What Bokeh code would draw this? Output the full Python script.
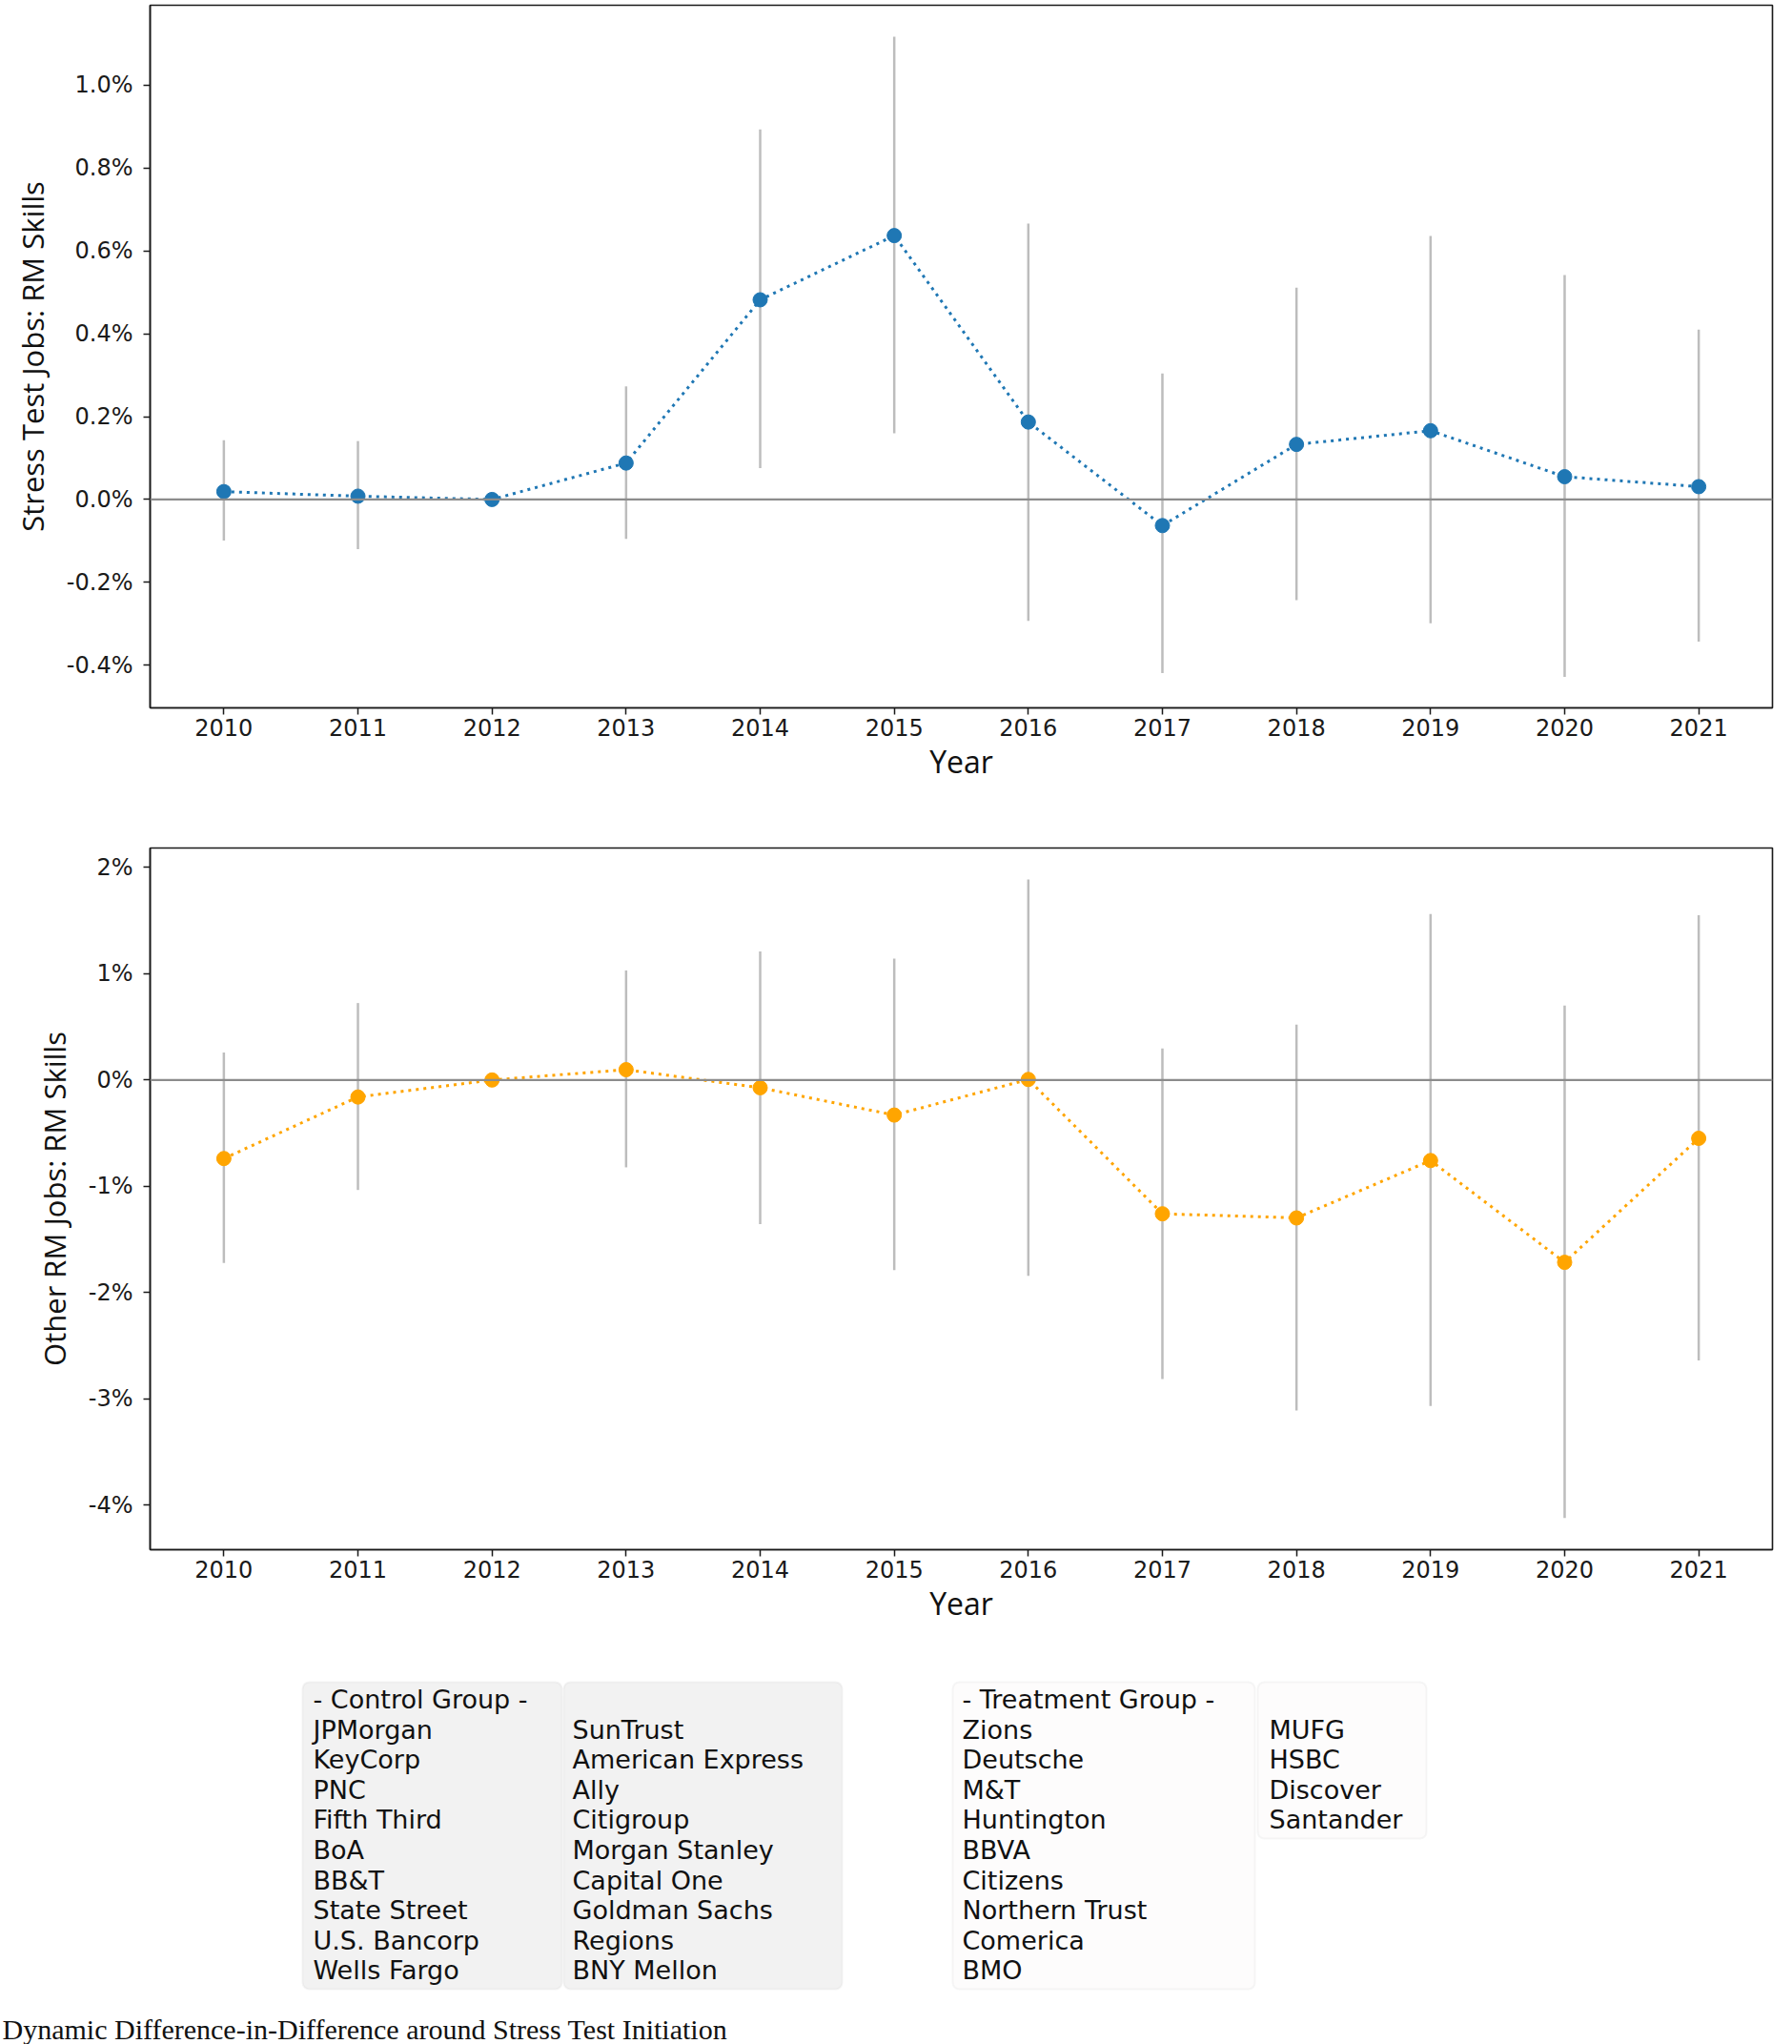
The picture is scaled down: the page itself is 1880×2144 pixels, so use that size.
from bokeh.plotting import figure
from bokeh.layouts import column
from bokeh.models import (Range1d, FixedTicker, PrintfTickFormatter, Span,
                          BoxAnnotation, ColumnDataSource)
from bokeh.embed import file_html
from bokeh.resources import INLINE
from bokeh.core.properties import value

# ---------------- data ----------------
years = [2010, 2011, 2012, 2013, 2014, 2015, 2016, 2017, 2018, 2019, 2020, 2021]

stress_coef = [0.019, 0.008, 0.0, 0.088, 0.482, 0.637, 0.187, -0.063, 0.133, 0.166, 0.055, 0.031]
stress_lo = [-0.099, -0.120, 0.0, -0.095, 0.076, 0.160, -0.293, -0.419, -0.243, -0.299, -0.428, -0.343]
stress_hi = [0.143, 0.141, 0.0, 0.273, 0.893, 1.117, 0.666, 0.304, 0.511, 0.636, 0.542, 0.410]

other_coef = [-0.739, -0.160, 0.0, 0.097, -0.073, -0.330, 0.005, -1.259, -1.298, -0.758, -1.716, -0.549]
other_lo = [-1.721, -1.035, 0.0, -0.822, -1.356, -1.789, -1.842, -2.815, -3.111, -3.068, -4.122, -2.640]
other_hi = [0.258, 0.724, 0.0, 1.031, 1.210, 1.142, 1.886, 0.297, 0.520, 1.561, 0.700, 1.551]

stress_ticks = [-0.4, -0.2, 0.0, 0.2, 0.4, 0.6, 0.8, 1.0]
other_ticks = [-4, -3, -2, -1, 0, 1, 2]

control_col1 = ["- Control Group -", "JPMorgan", "KeyCorp", "PNC", "Fifth Third", "BoA",
                "BB&T", "State Street", "U.S. Bancorp", "Wells Fargo"]
control_col2 = ["SunTrust", "American Express", "Ally", "Citigroup", "Morgan Stanley",
                "Capital One", "Goldman Sachs", "Regions", "BNY Mellon"]
treat_col1 = ["- Treatment Group -", "Zions", "Deutsche", "M&T", "Huntington", "BBVA",
              "Citizens", "Northern Trust", "Comerica", "BMO"]
treat_col2 = ["MUFG", "HSBC", "Discover", "Santander"]

caption = "Dynamic Difference-in-Difference around Stress Test Initiation"

W = 1880
LEFT, RIGHT = 157, 21
TICK_FONT = "DejaVu Sans"
LABEL_FONT = "Open Sans"


def panel(coef, lo, hi, color, ylabel, yticks, fmt, yr, height, top, bottom):
    p = figure(width=W, height=height, output_backend="svg", toolbar_location=None,
               x_range=Range1d(2009.45, 2021.55), y_range=Range1d(*yr),
               min_border_left=LEFT, min_border_right=RIGHT,
               min_border_top=top, min_border_bottom=bottom)
    p.grid.visible = False
    p.outline_line_color = "#1a1a1a"
    p.outline_line_width = 1.6
    p.background_fill_color = "white"
    p.border_fill_color = "white"

    p.add_layout(Span(location=0, dimension="width", line_color="#8c8c8c",
                      line_width=2.2))
    p.segment(x0=years, y0=lo, x1=years, y1=hi, line_color="#bdbdbd",
              line_width=2.5, line_cap="butt")
    p.line(years, coef, line_color=color, line_width=3, line_dash="3 5")
    p.scatter(years, coef, size=15, fill_color=color, line_color=color)

    for ax in (p.xaxis[0], p.yaxis[0]):
        ax.axis_line_color = "#1a1a1a"
        ax.axis_line_width = 1.6
        ax.major_tick_line_color = "#1a1a1a"
        ax.major_tick_line_width = 1.5
        ax.major_tick_out = 7
        ax.major_tick_in = 0
        ax.minor_tick_line_color = None
        ax.major_label_text_font = TICK_FONT
        ax.major_label_text_font_size = "24px"
        ax.major_label_text_color = "#1a1a1a"
        ax.axis_label_text_font = LABEL_FONT
        ax.axis_label_text_font_style = "normal"
        ax.axis_label_text_color = "#111111"

    p.xaxis.ticker = FixedTicker(ticks=years)
    p.xaxis.formatter = PrintfTickFormatter(format="%d")
    p.xaxis.axis_label = "Year"
    p.xaxis.axis_label_text_font_size = "32px"
    p.xaxis.major_label_standoff = 4
    p.xaxis.axis_label_standoff = 2

    p.yaxis.ticker = FixedTicker(ticks=yticks)
    p.yaxis.formatter = PrintfTickFormatter(format=fmt)
    p.yaxis.axis_label = ylabel
    p.yaxis.axis_label_text_font_size = "31px"
    p.yaxis.major_label_standoff = 11
    p.yaxis.axis_label_standoff = 12
    return p


p1 = panel(stress_coef, stress_lo, stress_hi, "#1f77b4", "Stress Test Jobs: RM Skills",
           stress_ticks, "%.1f%%", (-0.503, 1.193), 860, 5, 118)
p2 = panel(other_coef, other_lo, other_hi, "#ffa500", "Other RM Jobs: RM Skills",
           other_ticks, "%d%%", (-4.42, 2.183), 880, 29, 115)

# ---------------- legend / caption area (data units == page pixels) ----------------
p3 = figure(width=W, height=404, output_backend="svg", toolbar_location=None,
            x_range=Range1d(0, W), y_range=Range1d(2144, 1740),
            x_axis_type=None, y_axis_type=None, min_border=0)
p3.grid.visible = False
p3.outline_line_color = None

boxes = [
    (317, 589, 1764, 2086, "#f2f2f2", "#dcdcdc"),
    (591, 883, 1764, 2086, "#f2f2f2", "#dcdcdc"),
    (999, 1316, 1764, 2086, "#fdfcfc", "#e2e0e0"),
    (1319, 1496, 1764, 1928, "#fdfcfc", "#e2e0e0"),
]
for l, r, t, b, fc, lc in boxes:
    p3.add_layout(BoxAnnotation(left=l, right=r, top=t, bottom=b, fill_color=fc,
                                fill_alpha=1.0, line_color=lc, line_width=2,
                                border_radius=7, level="underlay"))

row0 = 1782
dy = 31.6


def col_text(items, x, start_row):
    ys = [row0 + (start_row + i) * dy for i in range(len(items))]
    src = ColumnDataSource(dict(x=[x] * len(items), y=ys, t=items))
    p3.text(x="x", y="y", text="t", source=src, text_font=value("DejaVu Sans"),
            text_font_size="27px", text_baseline="middle", text_align="left",
            text_color="#111111")


col_text(control_col1, 328, 0)
col_text(control_col2, 600, 1)
col_text(treat_col1, 1009, 0)
col_text(treat_col2, 1331, 1)

p3.text(x=[2], y=[2128], text=[caption], text_font=value("Liberation Serif"),
        text_font_size="30px", text_baseline="alphabetic", text_align="left",
        text_color="#111111")

charts = column(p1, p2, spacing=0)
open("out.html", "w").write(file_html([charts, p3], INLINE))
